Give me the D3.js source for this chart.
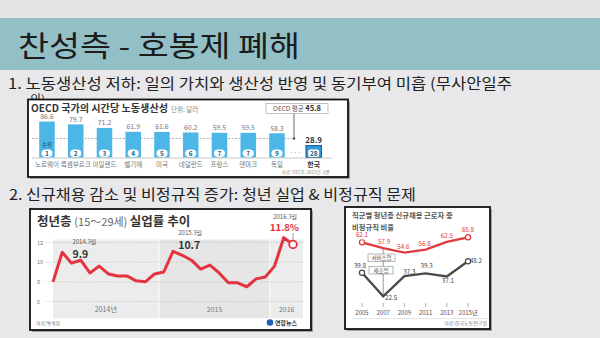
<!DOCTYPE html>
<html><head><meta charset="utf-8">
<script src="https://cdn.jsdelivr.net/npm/d3@7"></script>
<style>
html,body{margin:0;padding:0;background:#e8e8ea;overflow:hidden}
svg{display:block}
text{font-family:"Noto Sans CJK KR","Noto Sans",sans-serif}
</style>
</head><body>
<svg id="c" width="600" height="338"></svg>
<script>
// ---------- text ----------
const slideTitle = "찬성측 - 호봉제 폐해";
const point1 = "1.  노동생산성 저하: 일의 가치와 생산성 반영 및 동기부여 미흡 (무사안일주";
const point1b = "의)";
const point2 = "2. 신규채용 감소 및 비정규직 증가: 청년 실업 & 비정규직 문제";

// ---------- chart 1: OECD labour productivity ----------
const oecdCountries = ["노르웨이","룩셈부르크","아일랜드","벨기에","미국","네덜란드","프랑스","덴마크","독일","한국"];
const oecdValues = [86.6,79.7,71.2,61.9,61.6,60.2,59.5,59.5,58.3,28.9];
const oecdRanks = [1,2,3,4,5,6,7,7,9,28];
const oecdAverage = 45.8;

// ---------- chart 2: youth unemployment ----------
const youthMonths = ["2014.1","2014.2","2014.3","2014.4","2014.5","2014.6","2014.7","2014.8","2014.9","2014.10","2014.11","2014.12",
  "2015.1","2015.2","2015.3","2015.4","2015.5","2015.6","2015.7","2015.8","2015.9","2015.10","2015.11","2015.12",
  "2016.1","2016.2","2016.3"];
const youthRates = [8.0,11.0,9.9,10.2,8.9,9.6,8.8,8.6,8.6,8.1,8.0,8.8,
  9.0,11.1,10.7,10.2,9.3,9.7,8.9,7.9,7.9,7.5,8.3,8.5,
  9.6,12.5,11.8];
const youthTicks = [6,8,10,12];
const youthYears = ["2014","2015","2016"];
const youthYearLabels = ["2014년","2015","2016"];

// ---------- chart 3: non-regular share ----------
const jobYears = ["2005","2007","2009","2011","2013","2015년"];
const serviceRates = [62.1,57.9,54.6,56.8,62.5,65.8];
const manufRates = [39.8,22.5,37.3,39.3,37.1,48.2];

const svg = d3.select("#c");

// background
svg.append("rect").attr("width",600).attr("height",338).attr("fill","#e8e8ea");
svg.append("rect").attr("width",600).attr("height",18).attr("fill","#e3e4e6");
svg.append("rect").attr("y",18).attr("width",600).attr("height",52).attr("fill","#93bfc6");
svg.append("text").attr("x",18).attr("y",57).attr("font-size",29).attr("fill","#1c1c1c")
  .attr("textLength",282).attr("lengthAdjust","spacingAndGlyphs").text(slideTitle);

svg.append("text").attr("x",8).attr("y",88.5).attr("font-size",14.5).attr("fill","#222")
  .attr("textLength",504).attr("lengthAdjust","spacingAndGlyphs").text(point1);
// wrapped remainder, mostly hidden behind the chart box as in the slide
svg.append("defs").append("clipPath").attr("id","clipWrap")
  .append("rect").attr("x",0).attr("y",92).attr("width",600).attr("height",7.5);
svg.append("text").attr("x",30).attr("y",104).attr("font-size",12).attr("fill","#222")
  .attr("clip-path","url(#clipWrap)").text(point1b);
svg.append("text").attr("x",9).attr("y",200).attr("font-size",14.5).attr("fill","#222")
  .attr("textLength",407).attr("lengthAdjust","spacingAndGlyphs").text(point2);

function box(x,y,w,h){
  svg.append("rect").attr("x",x+2).attr("y",y+2).attr("width",w).attr("height",h).attr("fill","#6a6a6a").attr("opacity",0.55);
  svg.append("rect").attr("x",x).attr("y",y).attr("width",w).attr("height",h).attr("fill","#fff")
    .attr("stroke","#111").attr("stroke-width",1.8);
}

// ================= Chart 1 =================
box(28,99.5,320,77.5);
const g1 = svg.append("g");
const x1 = d3.scaleBand().domain(oecdCountries).range([26,326.7]).padding(0.46);
const gapAfter = 8; // visual gap for omitted countries
const y1 = d3.scaleLinear().domain([0,100]).range([157.5,116]);
const cx1 = (c)=> x1(c) + (c==="한국"? gapAfter:0);

g1.append("text").attr("x",31).attr("y",112).attr("font-size",10).attr("font-weight","bold").attr("fill","#333")
  .attr("textLength",137).attr("lengthAdjust","spacingAndGlyphs").text("OECD 국가의 시간당 노동생산성");
g1.append("text").attr("x",171).attr("y",112).attr("font-size",6.5).attr("fill","#888").text("단위: 달러");

// average dashed line
g1.append("line").attr("x1",32).attr("x2",292).attr("y1",y1(oecdAverage)).attr("y2",y1(oecdAverage))
  .attr("stroke","#999").attr("stroke-width",0.8).attr("stroke-dasharray","2,1.5");

g1.selectAll("rect.bar").data(oecdCountries).join("rect").attr("class","bar")
  .attr("x",c=>cx1(c)).attr("width",x1.bandwidth())
  .attr("y",(c,i)=>y1(oecdValues[i])).attr("height",(c,i)=>y1(0)-y1(oecdValues[i]))
  .attr("fill",c=>c==="한국"?"#2f9ad6":"#4cb7e7")
  .attr("stroke",c=>c==="한국"?"#1a5f95":"none").attr("stroke-width",1);

// baseline
g1.append("line").attr("x1",32).attr("x2",332).attr("y1",y1(0)+0.5).attr("y2",y1(0)+0.5).attr("stroke","#bbb").attr("stroke-width",0.8);

g1.selectAll("text.val").data(oecdCountries).join("text").attr("class","val")
  .attr("x",c=>cx1(c)+x1.bandwidth()/2).attr("y",(c,i)=>y1(oecdValues[i])-2.5)
  .attr("text-anchor","middle").attr("font-size",c=>c==="한국"?8:7)
  .attr("font-weight",c=>c==="한국"?"bold":"normal")
  .attr("fill",c=>c==="한국"?"#333":"#777").text((c,i)=>oecdValues[i]);

g1.selectAll("rect.rk").data(oecdCountries).join("rect").attr("class","rk")
  .attr("x",c=>cx1(c)+x1.bandwidth()/2-5.5).attr("y",149.5).attr("width",11).attr("height",7.5)
  .attr("rx",c=>c==="한국"?2:4).attr("fill","#fff");
g1.selectAll("text.rk").data(oecdCountries).join("text").attr("class","rk")
  .attr("x",c=>cx1(c)+x1.bandwidth()/2).attr("y",155.6)
  .attr("text-anchor","middle").attr("font-size",6.5).attr("font-weight","bold").attr("fill","#1d5f8e")
  .text((c,i)=>oecdRanks[i]);
g1.append("text").attr("x",cx1(oecdCountries[0])+x1.bandwidth()/2).attr("y",146.5).attr("text-anchor","middle")
  .attr("font-size",5.5).attr("fill","#1d4f74").text("순위");

g1.selectAll("text.cn").data(oecdCountries).join("text").attr("class","cn")
  .attr("x",c=>cx1(c)+x1.bandwidth()/2).attr("y",166.5)
  .attr("text-anchor","middle").attr("font-size",c=>c==="한국"?7:6.5)
  .attr("font-weight",c=>c==="한국"?"bold":"normal")
  .attr("fill",c=>c==="한국"?"#333":"#777").text(c=>c);

g1.append("text").attr("x",(cx1("독일")+x1.bandwidth()+cx1("한국"))/2).attr("y",155).attr("text-anchor","middle")
  .attr("font-size",7).attr("fill","#999").text("···");

// OECD avg label box
g1.append("rect").attr("x",266).attr("y",103.5).attr("width",62).attr("height",10).attr("fill","#fff").attr("stroke","#aaa").attr("stroke-width",0.7);
const avgT = g1.append("text").attr("x",297).attr("y",111).attr("text-anchor","middle").attr("font-size",6.5).attr("fill","#555");
avgT.append("tspan").text("OECD 평균 ");
avgT.append("tspan").attr("font-weight","bold").attr("font-size",7.5).attr("fill","#333").text(oecdAverage);
g1.append("line").attr("x1",294).attr("x2",294).attr("y1",113.5).attr("y2",y1(oecdAverage)-1).attr("stroke","#444").attr("stroke-width",0.8);
g1.append("circle").attr("cx",294).attr("cy",y1(oecdAverage)).attr("r",1.2).attr("fill","#444");

g1.append("text").attr("x",330).attr("y",174).attr("text-anchor","end").attr("font-size",4.5).attr("fill","#888").text("자료: OECD, 2015년 기준");

// ================= Chart 2 =================
box(30,209,281,121);
const g2 = svg.append("g");
const x2 = d3.scalePoint().domain(youthMonths).range([53,293]);
const y2 = d3.scaleLinear().domain([6,12]).range([301.5,242.5]);
const step2 = x2.step();

const t2 = g2.append("text").attr("x",37).attr("y",226).attr("font-size",12.5).attr("fill","#333");
t2.append("tspan").attr("font-weight","bold").text("청년층 ");
t2.append("tspan").attr("fill","#666").attr("font-size",11).text("(15～29세) ");
t2.append("tspan").attr("font-weight","bold").text("실업률 추이");

// year bands
youthYears.forEach((yr,k)=>{
  const ms = youthMonths.filter(m=>m.startsWith(yr));
  const xs = x2(ms[0]) - (k===0?0:step2*0.45);
  const xe = k===youthYears.length-1 ? 303 : x2(ms[ms.length-1]) + step2*0.45;
  g2.append("rect").attr("x",xs).attr("y",y2(12.3)).attr("width",xe-xs).attr("height",y2(4.3)-y2(12.3))
    .attr("fill",k===1?"#e6e6e6":"#ececec");
  g2.append("text").attr("x",(xs+xe)/2).attr("y",312).attr("text-anchor","middle").attr("font-size",7).attr("fill","#777").text(youthYearLabels[k]);
});

// grid + ticks
g2.selectAll("line.gr").data(youthTicks).join("line").attr("class","gr")
  .attr("x1",46).attr("x2",305).attr("y1",d=>y2(d)).attr("y2",d=>y2(d))
  .attr("stroke","#aaa").attr("stroke-width",0.6).attr("stroke-dasharray","1,1.5");
g2.selectAll("text.tk").data(youthTicks).join("text").attr("class","tk")
  .attr("x",37).attr("y",d=>y2(d)+2).attr("font-size",5.5).attr("fill","#777").text(d=>d);

g2.append("path").datum(youthRates)
  .attr("d",d3.line().x((d,i)=>x2(youthMonths[i])).y(d=>y2(d)).curve(d3.curveLinear))
  .attr("fill","none").attr("stroke","#e5323f").attr("stroke-width",3).attr("stroke-linejoin","round");
const last = youthRates.length-1;
g2.append("circle").attr("cx",x2(youthMonths[last])).attr("cy",y2(youthRates[last])).attr("r",3.8)
  .attr("fill","#fff").attr("stroke","#e5323f").attr("stroke-width",1.8);

// annotations
function ann(mi, lbl, val, dx, dy){
  const px = x2(youthMonths[mi]), py = y2(youthRates[mi]);
  g2.append("text").attr("x",px+dx).attr("y",py+dy).attr("font-size",6).attr("fill","#555").text(lbl);
  g2.append("text").attr("x",px+dx).attr("y",py+dy+14).attr("font-size",10.5).attr("font-weight","bold")
    .attr("fill","#333").text(val);
}
ann(2,"2014.3월","9.9",1,-19);
ann(14,"2015.3월","10.7",-4,-20.5);
{
  const px = x2(youthMonths[last]), py = y2(youthRates[last]);
  g2.append("text").attr("x",px+4).attr("y",218.5).attr("text-anchor","end").attr("font-size",6).attr("fill","#555").text("2016.3월");
  g2.append("text").attr("x",px+6).attr("y",231).attr("text-anchor","end").attr("font-size",9.5).attr("font-weight","bold").attr("fill","#e5323f").text("11.8%");
  g2.append("line").attr("x1",px).attr("x2",px).attr("y1",233).attr("y2",py-5).attr("stroke","#555").attr("stroke-width",0.6);
}
g2.append("text").attr("x",36).attr("y",325).attr("font-size",4.8).attr("fill","#777").text("자료/통계청");
g2.append("circle").attr("cx",270).attr("cy",322.5).attr("r",3.3).attr("fill","#1f5fb8");
g2.append("text").attr("x",275).attr("y",325).attr("font-size",6).attr("font-weight","bold").attr("fill","#333").text("연합뉴스");

// ================= Chart 3 =================
box(345,207,145,122);
const g3 = svg.append("g");
const x3 = d3.scalePoint().domain(jobYears).range([362,468]);
const y3 = d3.scaleLinear().domain([0,100]).range([327,190.7]);

g3.append("text").attr("x",352).attr("y",218).attr("font-size",7.3).attr("font-weight","bold").attr("fill","#555").text("직군별 청년층 신규채용 근로자 중");
g3.append("text").attr("x",352).attr("y",229.5).attr("font-size",7.3).attr("font-weight","bold").attr("fill","#555").text("비정규직 비율");

// connector line at 2007
g3.append("line").attr("x1",x3("2007")).attr("x2",x3("2007")).attr("y1",y3(serviceRates[1])).attr("y2",y3(manufRates[1]))
  .attr("stroke","#555").attr("stroke-width",0.6);

const ln3 = d3.line().x((d,i)=>x3(jobYears[i])).y(d=>y3(d));
g3.append("path").datum(serviceRates).attr("d",ln3).attr("fill","none").attr("stroke","#e0393e").attr("stroke-width",2.3);
g3.append("path").datum(manufRates).attr("d",ln3).attr("fill","none").attr("stroke","#4a4a4a").attr("stroke-width",2.3);

[[serviceRates,"#e0393e"],[manufRates,"#4a4a4a"]].forEach(([arr,col])=>{
  [0,arr.length-1].forEach(i=>{
    g3.append("circle").attr("cx",x3(jobYears[i])).attr("cy",y3(arr[i])).attr("r",2.6)
      .attr("fill","#fff").attr("stroke",col).attr("stroke-width",1.2);
  });
});

// legend boxes
g3.append("rect").attr("x",368).attr("y",254).attr("width",27).attr("height",7.5).attr("fill","#fff").attr("stroke","#888").attr("stroke-width",0.6);
g3.append("text").attr("x",381.5).attr("y",260).attr("text-anchor","middle").attr("font-size",5.5).attr("fill","#555").text("서비스업");
g3.append("rect").attr("x",369).attr("y",266.5).attr("width",24).attr("height",7.5).attr("fill","#fff").attr("stroke","#888").attr("stroke-width",0.6);
g3.append("text").attr("x",381).attr("y",272.5).attr("text-anchor","middle").attr("font-size",5.5).attr("fill","#555").text("제조업");

const sOff = [[0,-5],[1,-4],[-1,-3.5],[-1,-3.5],[0,-4],[0,-5]];
g3.selectAll("text.sv").data(serviceRates).join("text").attr("class","sv")
  .attr("x",(d,i)=>x3(jobYears[i])+sOff[i][0]).attr("y",(d,i)=>y3(d)+sOff[i][1])
  .attr("text-anchor","middle").attr("font-size",6.3).attr("fill","#e0393e").text(d=>d);
const mOff = [[-2,-5],[8,4],[5,-2.5],[1,-5],[1,7],[8,2]];
g3.selectAll("text.mf").data(manufRates).join("text").attr("class","mf")
  .attr("x",(d,i)=>x3(jobYears[i])+mOff[i][0]).attr("y",(d,i)=>y3(d)+mOff[i][1])
  .attr("text-anchor","middle").attr("font-size",6.3).attr("fill","#444").text(d=>d);

// x axis ticks
g3.selectAll("line.xt").data(jobYears).join("line").attr("class","xt")
  .attr("x1",d=>x3(d)).attr("x2",d=>x3(d)).attr("y1",303).attr("y2",307).attr("stroke","#777").attr("stroke-width",0.6);
g3.selectAll("text.xl").data(jobYears).join("text").attr("class","xl")
  .attr("x",d=>x3(d)).attr("y",315).attr("text-anchor","middle").attr("font-size",6).attr("fill","#555").text(d=>d);
g3.append("line").attr("x1",352).attr("x2",488).attr("y1",318.5).attr("y2",318.5).attr("stroke","#ccc").attr("stroke-width",0.5);
g3.append("text").attr("x",487).attr("y",325).attr("text-anchor","end").attr("font-size",5).attr("fill","#777").text("자료:한국노동연구원");
</script>
</body></html>
